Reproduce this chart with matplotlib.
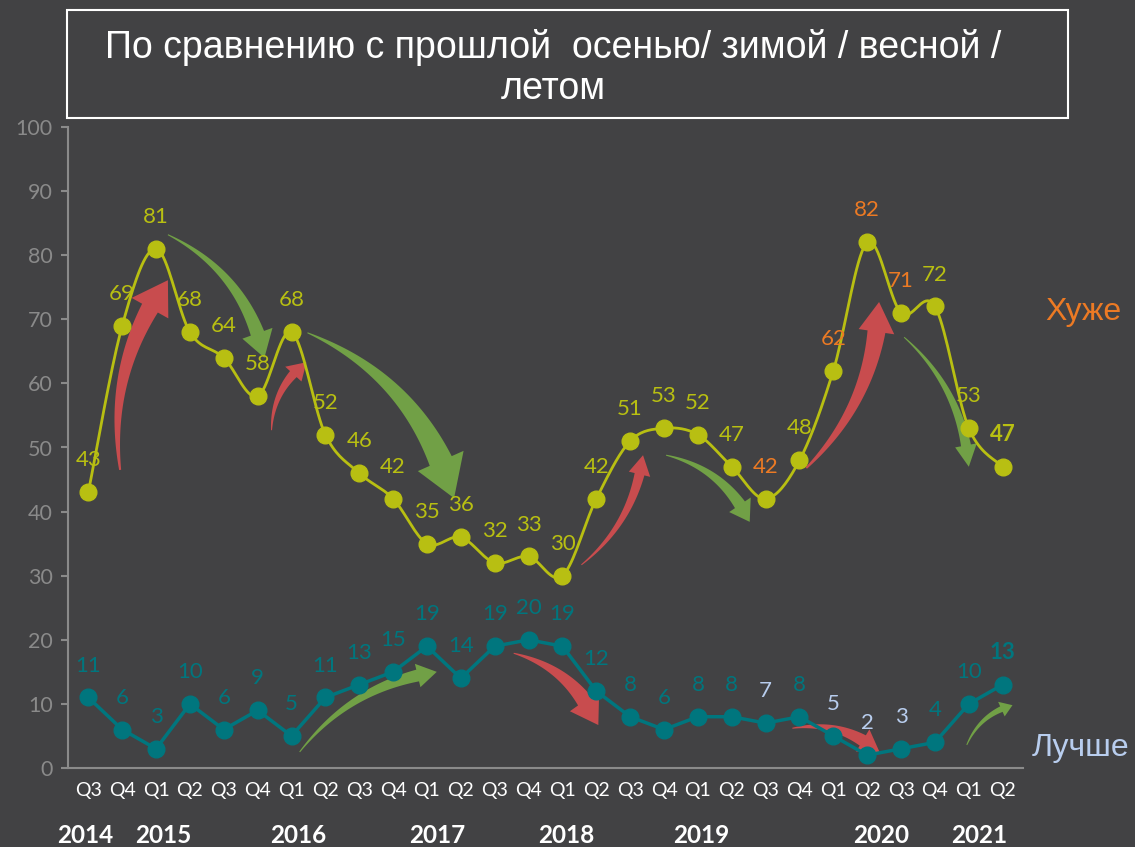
import numpy as np
import matplotlib
matplotlib.use("Agg")
import matplotlib.pyplot as plt
from matplotlib.patches import Polygon, Rectangle

# --- data -------------------------------------------------------------
quarters = ["Q3", "Q4", "Q1", "Q2", "Q3", "Q4", "Q1", "Q2", "Q3", "Q4", "Q1", "Q2", "Q3", "Q4",
            "Q1", "Q2", "Q3", "Q4", "Q1", "Q2", "Q3", "Q4", "Q1", "Q2", "Q3", "Q4", "Q1", "Q2"]
years = ["2014", "2015", "2016", "2017", "2018", "2019", "2020", "2021"]
year_pos = [-0.1, 2.2, 6.2, 10.3, 14.1, 18.1, 23.4, 26.3]

worse = [43, 69, 81, 68, 64, 58, 68, 52, 46, 42, 35, 36, 32, 33,
         30, 42, 51, 53, 52, 47, 42, 48, 62, 82, 71, 72, 53, 47]
better = [11, 6, 3, 10, 6, 9, 5, 11, 13, 15, 19, 14, 19, 20,
          19, 12, 8, 6, 8, 8, 7, 8, 5, 2, 3, 4, 10, 13]
worse_hi = [20, 22, 23, 24]     # labels drawn in orange
better_hi = [20, 22, 23, 24]    # labels drawn in light blue

title = "По сравнению с прошлой  осенью/ зимой / весной /\nлетом"

# arrows: (x0, y0, x1, y1, bend, w_tail, w_end, head_w, head_l, colour)
RED, GREEN = "#c84c4e", "#71a046"
arrows = [
    (0.94, 46.5, 2.35, 76.1, 0.10, 2, 18, 42, 34, RED),
    (2.35, 83.2, 5.2, 64.0, 0.12, 1, 14, 32, 26, GREEN),
    (5.41, 52.7, 6.44, 63.3, 0.12, 1, 9, 22, 18, RED),
    (6.47, 67.9, 10.8, 42.1, 0.12, 1, 24, 50, 40, GREEN),
    (14.56, 31.7, 16.38, 48.8, -0.10, 1, 10, 22, 20, RED),
    (17.06, 48.8, 19.53, 38.4, 0.12, 1, 12, 26, 20, GREEN),
    (21.2, 46.8, 23.35, 72.7, -0.10, 2, 18, 36, 30, RED),
    (24.09, 67.2, 26.0, 47.0, 0.10, 1, 10, 22, 22, GREEN),
    (6.24, 2.5, 10.29, 15.0, 0.10, 1, 12, 24, 20, GREEN),
    (12.56, 17.9, 15.06, 6.7, 0.12, 1, 16, 36, 28, RED),
    (20.79, 6.2, 23.38, 2.3, 0.12, 1, 12, 26, 22, RED),
    (25.94, 3.6, 27.29, 9.8, 0.12, 1, 6, 16, 12, GREEN),
]

BG = "#424244"
YEL = "#b8bf12"
TEAL = "#00767e"
ORANGE = "#ec7a24"
LBLUE = "#b8cdee"
GREY = "#8a8a8a"
FONT = "Lato"


def smooth(y, n=20):
    # excel-like smoothed line (bezier through the points)
    x = np.arange(len(y), dtype=float)
    y = np.asarray(y, dtype=float)
    xs, ys = [], []
    for i in range(len(y) - 1):
        i0, i3 = max(i - 1, 0), min(i + 2, len(y) - 1)
        p0 = np.array([x[i], y[i]])
        p3 = np.array([x[i + 1], y[i + 1]])
        c1 = p0 + (p3 - np.array([x[i0], y[i0]])) / 6
        c2 = p3 - (np.array([x[i3], y[i3]]) - p0) / 6
        t = np.linspace(0, 1, n)[:, None]
        b = (1 - t) ** 3 * p0 + 3 * (1 - t) ** 2 * t * c1 + 3 * (1 - t) * t ** 2 * c2 + t ** 3 * p3
        xs.extend(b[:, 0])
        ys.extend(b[:, 1])
    return xs, ys


def curved_arrow(ax, x0, y0, x1, y1, bend, w0, w1, hw, hl, color):
    tr = ax.transData
    p0 = tr.transform((x0, y0))
    p1 = tr.transform((x1, y1))
    d = p1 - p0
    L = np.hypot(*d)
    perp = np.array([-d[1], d[0]]) / L
    c = (p0 + p1) / 2 + perp * 2 * bend * L
    t = np.linspace(0, 1, 200)[:, None]
    pts = (1 - t) ** 2 * p0 + 2 * (1 - t) * t * c + t ** 2 * p1
    seg = np.hypot(*np.diff(pts, axis=0).T)
    s = np.concatenate([[0], np.cumsum(seg)])
    k = np.searchsorted(s, s[-1] - hl)
    body = pts[:k + 1]
    tang = np.gradient(body, axis=0)
    tang /= np.hypot(tang[:, 0], tang[:, 1])[:, None]
    nrm = np.column_stack([-tang[:, 1], tang[:, 0]])
    w = np.linspace(w0, w1, len(body))[:, None] / 2
    left = body + nrm * w
    right = body - nrm * w
    base = body[-1]
    bn = nrm[-1]
    poly = np.vstack([left, base + bn * hw / 2, p1, base - bn * hw / 2, right[::-1]])
    poly = tr.inverted().transform(poly)
    ax.add_patch(Polygon(poly, closed=True, facecolor=color, edgecolor="none", zorder=1))


fig = plt.figure(figsize=(11.35, 8.47), dpi=100, facecolor=BG)
ax = fig.add_axes([68 / 1135, 79 / 847, 955 / 1135, 641 / 847])
ax.set_facecolor(BG)

x = np.arange(len(worse))
ax.set_xlim(-0.6, len(worse) - 0.4)
ax.set_ylim(0, 100)

sx, sy = smooth(worse)
ax.plot(sx, sy, color=YEL, lw=2, zorder=3)
ax.plot(x, worse, "o", color=YEL, ms=12, zorder=4)
ax.plot(x, better, "-o", color=TEAL, lw=2.5, ms=12, zorder=4)

for i, v in enumerate(worse):
    col = ORANGE if i in worse_hi else YEL
    ax.annotate(str(v), (i, v), xytext=(0, 23), textcoords="offset points",
                ha="center", va="center", color=col, fontsize=16, family=FONT,
                fontweight="bold" if i == len(worse) - 1 else "normal", zorder=5)
for i, v in enumerate(better):
    col = LBLUE if i in better_hi else TEAL
    ax.annotate(str(v), (i, v), xytext=(0, 23), textcoords="offset points",
                ha="center", va="center", color=col, fontsize=16, family=FONT,
                fontweight="bold" if i == len(better) - 1 else "normal", zorder=5)

for a in arrows:
    curved_arrow(ax, *a)

# axes styling
for sp in ["top", "right"]:
    ax.spines[sp].set_visible(False)
ax.spines["left"].set_color(GREY)
ax.spines["bottom"].set_color(GREY)
ax.spines["left"].set_linewidth(1.5)
ax.spines["bottom"].set_linewidth(1.5)
ax.set_yticks(range(0, 101, 10))
ax.tick_params(axis="y", colors=GREY, labelsize=15.5, length=5, width=1.5, pad=6)
for lab in ax.get_yticklabels():
    lab.set_family(FONT)
ax.set_xticks(x)
ax.set_xticklabels(quarters, family=FONT, fontsize=14, color="white")
ax.tick_params(axis="x", length=0, pad=10)

for yr, p in zip(years, year_pos):
    ax.text(p, -0.105, yr, transform=ax.get_xaxis_transform(), ha="center", va="center",
            color="white", fontsize=17.5, fontweight="bold", family=FONT)

fig.text(1083 / 1135, 1 - 312 / 847, "Хуже", color=ORANGE, fontsize=23,
         family="Liberation Sans", ha="center", va="center")
fig.text(1080 / 1135, 1 - 748 / 847, "Лучше", color=LBLUE, fontsize=23,
         family="Liberation Sans", ha="center", va="center")

# title box
fig.patches.append(Rectangle((67 / 1135, 1 - 118 / 847), 1001 / 1135, 108 / 847,
                             transform=fig.transFigure, fill=False, edgecolor="white", lw=1.5))
fig.text(553 / 1135, 1 - 68 / 847, title, color="white", fontsize=27,
         family="Liberation Sans", ha="center", va="center", linespacing=1.2)

fig.savefig("out.png", dpi=100, facecolor=BG)
